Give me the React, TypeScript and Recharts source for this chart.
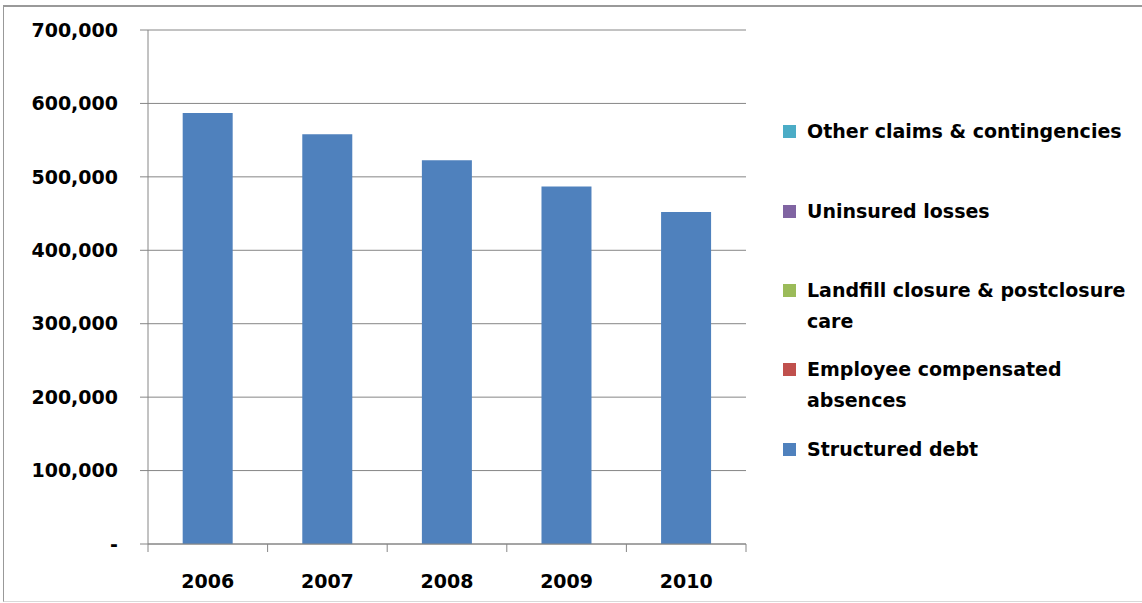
import React from "react";
import { BarChart, Bar, XAxis, YAxis, CartesianGrid } from "recharts";

const years = ["2006", "2007", "2008", "2009", "2010"];
const structuredDebt = [587000, 558000, 522500, 487000, 452000];
const employeeAbsences = [0, 0, 0, 0, 0];
const landfillCare = [0, 0, 0, 0, 0];
const uninsuredLosses = [0, 0, 0, 0, 0];
const otherClaims = [0, 0, 0, 0, 0];
const yTicks = [0, 100000, 200000, 300000, 400000, 500000, 600000, 700000];

// stack order, bottom first
const series = [
  { key: "structured", name: "Structured debt", color: "#4F81BD", values: structuredDebt },
  { key: "employee", name: "Employee compensated absences", color: "#C0504D", values: employeeAbsences },
  { key: "landfill", name: "Landfill closure & postclosure care", color: "#9BBB59", values: landfillCare },
  { key: "uninsured", name: "Uninsured losses", color: "#8064A2", values: uninsuredLosses },
  { key: "other", name: "Other claims & contingencies", color: "#4BACC6", values: otherClaims },
];

const data = years.map((year, i) => {
  const row: Record<string, string | number> = { year };
  series.forEach((s) => {
    row[s.key] = s.values[i];
  });
  return row;
});

const FONT = "'DejaVu Sans', sans-serif";
const AXIS = "#868686";
const tickStyle = { fontSize: 19, fontWeight: 700, fill: "#000", fontFamily: FONT };
const TICK_SIZE = 8;
const TICK_MARGIN = 23;

const formatY = (v: number) => (v === 0 ? "-" : v.toLocaleString("en-US"));

// year label plus the tick marks on the category boundaries
const YearTick = (props: any) => {
  const { x, y, payload, index } = props;
  const half = typeof payload?.offset === "number" ? payload.offset : 0;
  const top = y - TICK_SIZE - TICK_MARGIN;
  return (
    <g>
      {half > 0 && (
        <line x1={x - half} x2={x - half} y1={top} y2={top + TICK_SIZE} stroke={AXIS} />
      )}
      {half > 0 && index === years.length - 1 && (
        <line x1={x + half} x2={x + half} y1={top} y2={top + TICK_SIZE} stroke={AXIS} />
      )}
      <text x={x} y={y} dy="0.71em" textAnchor="middle" {...tickStyle}>
        {payload.value}
      </text>
    </g>
  );
};

// first-line centre of each legend entry, top to bottom
const legendTops = [131, 211, 290, 369, 449];

export default function App() {
  const legendItems = [...series].reverse();
  return (
    <div
      style={{
        position: "fixed",
        left: 0,
        top: 0,
        width: 1142,
        height: 603,
        background: "#fff",
        overflow: "hidden",
        fontFamily: FONT,
      }}
    >
      <div
        style={{
          position: "absolute",
          left: 3,
          top: 5,
          width: 1150,
          height: 594,
          borderTop: "2px solid #999",
          borderLeft: "1px solid #999",
          borderBottom: "1px solid #d9d9d9",
        }}
      />
      <div style={{ position: "absolute", left: 0, top: 0 }}>
        <BarChart
          width={760}
          height={603}
          data={data}
          margin={{ top: 30, right: 14, bottom: 0, left: 0 }}
          barCategoryGap="29%"
        >
          <CartesianGrid vertical={false} stroke={AXIS} />
          <XAxis
            dataKey="year"
            axisLine={{ stroke: AXIS }}
            tickLine={false}
            tickSize={TICK_SIZE}
            tickMargin={TICK_MARGIN}
            height={59}
            tick={<YearTick />}
            interval={0}
          />
          <YAxis
            width={148}
            domain={[0, 700000]}
            ticks={yTicks}
            interval={0}
            tickFormatter={formatY}
            axisLine={{ stroke: AXIS }}
            tickLine={{ stroke: AXIS }}
            tickSize={8}
            tickMargin={22}
            tick={tickStyle}
          />
          {series.map((s) => (
            <Bar
              key={s.key}
              dataKey={s.key}
              name={s.name}
              stackId="a"
              fill={s.color}
              isAnimationActive={false}
            />
          ))}
        </BarChart>
      </div>
      {legendItems.map((s, i) => (
        <div
          key={s.key}
          style={{
            position: "absolute",
            left: 783,
            top: legendTops[i] - 15.5,
            width: 355,
            display: "flex",
            alignItems: "flex-start",
          }}
        >
          <div
            style={{
              width: 13,
              height: 13,
              background: s.color,
              marginTop: 9,
              marginRight: 11,
              flexShrink: 0,
            }}
          />
          <div
            style={{
              fontSize: 19,
              fontWeight: 700,
              lineHeight: "31px",
              color: "#000",
              width: 335,
            }}
          >
            {s.name}
          </div>
        </div>
      ))}
    </div>
  );
}
